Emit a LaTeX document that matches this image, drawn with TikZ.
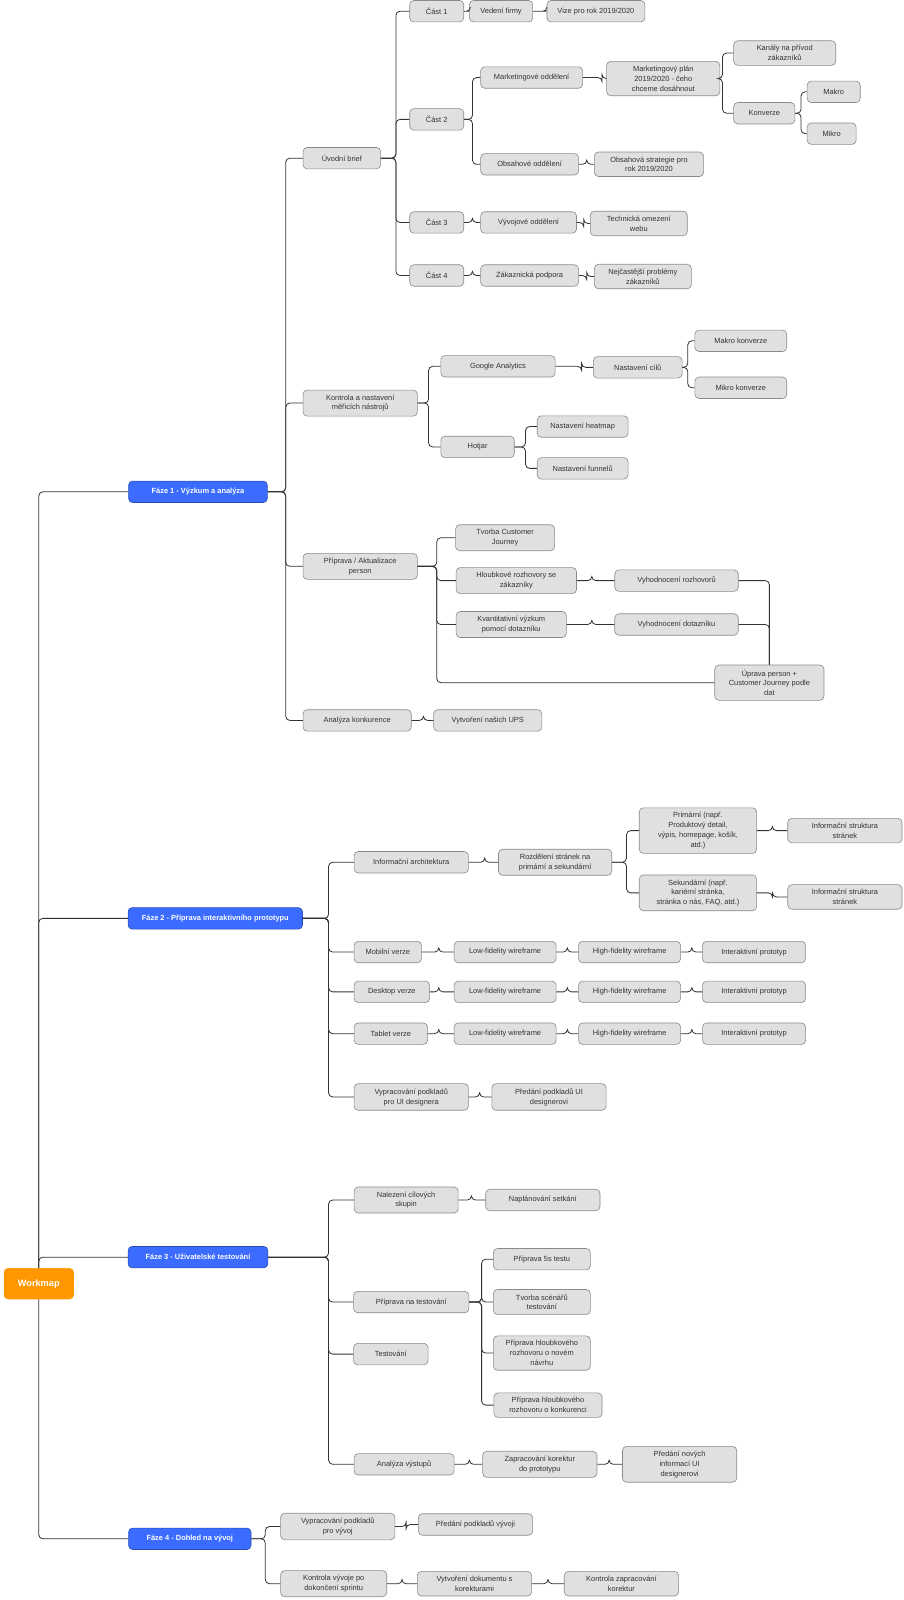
\documentclass[tikz,border=0pt]{standalone}
\usepackage{fontspec}
\setmainfont{Liberation Sans}
\definecolor{boxfill}{HTML}{E0E0E0}
\definecolor{boxline}{HTML}{8A8A8A}
\definecolor{linec}{HTML}{333333}
\definecolor{phase}{HTML}{3B6CFF}
\definecolor{wmc}{HTML}{FF9800}
\definecolor{txt}{HTML}{333333}
\tikzset{
 box/.style={draw=boxline,fill=boxfill,rounded corners=4pt,align=center,text=txt,
   font=\fontsize{7.3}{9.6}\selectfont,inner xsep=2pt,inner ysep=4.5pt,minimum height=21pt,line width=0.6pt},
 phasebox/.style={box,fill=phase,draw=phase!70!black,text=white,font=\fontsize{7.3}{9.6}\selectfont\bfseries},
 conn/.style={draw=linec,line width=0.8pt,rounded corners=4pt}
}
\newcommand\N[5]{\node[box,minimum width=#4pt] (#1) at (#2,#3) {#5};}
\newcommand\C[3]{\draw[conn] (#1.east) -- (#3,0 |- #1.east) |- (#2.west);}
\begin{document}
\begin{tikzpicture}[x=1pt,y=-1pt]
\useasboundingbox (0,0) rectangle (885,1568);
% root and phases
\node[box,fill=wmc,draw=wmc,text=white,font=\fontsize{9}{11}\selectfont\bfseries,minimum width=68pt,minimum height=30pt] (wm) at (38,1258) {Workmap};
\node[phasebox,minimum width=136pt] (f1) at (194,482) {Fáze 1 - Výzkum a analýza};
\node[phasebox,minimum width=171pt] (f2) at (211,900) {Fáze 2 - Příprava interaktivního prototypu};
\node[phasebox,minimum width=137pt] (f3) at (194,1232) {Fáze 3 - Uživatelské testování};
\node[phasebox,minimum width=120pt] (f4) at (186,1508) {Fáze 4 - Dohled na vývoj};
\draw[conn] (f1.west) -| (wm.north);
\draw[conn] (f4.west) -| (wm.south);
\draw[conn] (wm.north) |- (f2.west);
\draw[conn] (wm.north) |- (f3.west);
% Faze 1
\N{ub}{335}{155}{76}{Úvodní brief}
\N{kn}{353}{395}{112}{Kontrola a nastavení\\měřicích nástrojů}
\N{pp}{353}{555}{112}{Příprava / Aktualizace\\person}
\N{ak}{350}{706}{106}{Analýza konkurence}
\C{f1}{ub}{280}\C{f1}{kn}{280}\C{f1}{pp}{280}\C{f1}{ak}{280}
\N{c1}{428}{11}{53}{Část 1}
\N{c2}{428}{117}{53}{Část 2}
\N{c3}{428}{218}{53}{Část 3}
\N{c4}{428}{270}{53}{Část 4}
\C{ub}{c1}{388}\C{ub}{c2}{388}\C{ub}{c3}{388}\C{ub}{c4}{388}
\N{vf}{491}{11}{62}{Vedení firmy}
\N{vz}{584}{11}{96}{Vize pro rok 2019/2020}
\C{c1}{vf}{461}\C{vf}{vz}{536}
\N{mo}{521}{76}{100}{Marketingové oddělení}
\N{oo}{519}{161}{96}{Obsahové oddělení}
\C{c2}{mo}{463}\C{c2}{oo}{463}
\N{mp}{650}{77}{111}{Marketingový plán\\2019/2020 - čeho\\chceme dosáhnout}
\C{mo}{mp}{590}
\N{kp}{769}{52}{100}{Kanály na přívod\\zákazníků}
\N{kv}{749}{111}{60}{Konverze}
\C{mp}{kp}{708}\C{mp}{kv}{708}
\N{ma}{817}{90}{52}{Makro}
\N{mi}{815}{131}{48}{Mikro}
\C{kv}{ma}{785}\C{kv}{mi}{785}
\N{os}{636}{161}{107}{Obsahová strategie pro\\rok 2019/2020}
\C{oo}{os}{575}
\N{vo}{518}{218}{94}{Vývojové oddělení}
\N{to}{626}{219}{95}{Technická omezení\\webu}
\C{c3}{vo}{463}\C{vo}{to}{572}
\N{zp}{519}{270}{96}{Zákaznická podpora}
\N{np}{630}{271}{95}{Nejčastější problémy\\zákazníků}
\C{c4}{zp}{463}\C{zp}{np}{575}
\N{ga}{488}{359}{112}{Google Analytics}
\N{hj}{468}{438}{72}{Hotjar}
\C{kn}{ga}{420}\C{kn}{hj}{420}
\N{nc}{625}{360}{87}{Nastavení cílů}
\C{ga}{nc}{570}
\N{mk}{726}{334}{90}{Makro konverze}
\N{mik}{726}{380}{90}{Mikro konverze}
\C{nc}{mk}{674}\C{nc}{mik}{674}
\N{nh}{571}{418}{89}{Nastavení heatmap}
\N{nf}{571}{459}{89}{Nastavení funnelů}
\C{hj}{nh}{515}\C{hj}{nf}{515}
\N{tcj}{495}{527}{97}{Tvorba Customer\\Journey}
\N{hr}{506}{569}{118}{Hloubkové rozhovory se\\zákazníky}
\N{kvv}{501}{612}{108}{Kvantitativní výzkum\\pomocí dotazníku}
\N{up}{754}{669}{107}{Úprava person +\\Customer Journey podle\\dat}
\C{pp}{tcj}{428}\C{pp}{hr}{428}\C{pp}{kvv}{428}\C{pp}{up}{428}
\N{vr}{663}{569}{121}{Vyhodnocení rozhovorů}
\N{vd}{663}{612}{121}{Vyhodnocení dotazníku}
\C{hr}{vr}{580}\C{kvv}{vd}{580}
\draw[conn] (vr.east) -| (up.north);
\draw[conn] (vd.east) -| (up.north);
\N{vu}{478}{706}{106}{Vytvoření našich UPS}
\C{ak}{vu}{415}
% Faze 2
\N{ia}{403}{845}{112}{Informační architektura}
\N{mv}{380}{933}{66}{Mobilní verze}
\N{dv}{384}{972}{74}{Desktop verze}
\N{tv}{383}{1013}{72}{Tablet verze}
\N{vp}{403}{1075}{112}{Vypracování podkladů\\pro UI designera}
\C{f2}{ia}{322}\C{f2}{mv}{322}\C{f2}{dv}{322}\C{f2}{tv}{322}\C{f2}{vp}{322}
\N{rs}{544}{845}{111}{Rozdělení stránek na\\primární a sekundární}
\C{ia}{rs}{475}
\N{pr}{684}{814}{115}{Primární (např.\\Produktový detail,\\výpis, homepage, košík,\\atd.)}
\N{sk}{684}{875}{115}{Sekundární (např.\\kariérní stránka,\\stránka o nás, FAQ, atd.)}
\C{rs}{pr}{614}\C{rs}{sk}{614}
\N{is1}{828}{814}{112}{Informační struktura\\stránek}
\N{is2}{828}{879}{112}{Informační struktura\\stránek}
\C{pr}{is1}{757}\C{sk}{is2}{757}
\foreach \v/\y in {mv/933,dv/972,tv/1013}{
 \N{l\v}{495}{\y}{100}{Low-fidelity wireframe}
 \N{h\v}{617}{\y}{100}{High-fidelity wireframe}
 \N{i\v}{739}{\y}{101}{Interaktivní prototyp}
 \C{\v}{l\v}{430}\C{l\v}{h\v}{556}\C{h\v}{i\v}{678}
}
\N{pu}{538}{1075}{112}{Předání podkladů UI\\designerovi}
\C{vp}{pu}{470}
% Faze 3
\N{ns}{398}{1176}{102}{Nalezení cílových\\skupin}
\N{pt}{403}{1276}{113}{Příprava na testování}
\N{te}{383}{1327}{73}{Testování}
\N{av}{396}{1435}{98}{Analýza výstupů}
\C{f3}{ns}{322}\C{f3}{pt}{322}\C{f3}{te}{322}\C{f3}{av}{322}
\N{nps}{532}{1176}{112}{Naplánování setkání}
\C{ns}{nps}{462}
\N{p5}{531}{1234}{95}{Příprava 5s testu}
\N{ts}{531}{1276}{95}{Tvorba scénářů\\testování}
\N{phn}{531}{1326}{95}{Příprava hloubkového\\rozhovoru o novém\\návrhu}
\N{phk}{537}{1377}{106}{Příprava hloubkového\\rozhovoru o konkurenci}
\C{pt}{p5}{472}\C{pt}{ts}{472}\C{pt}{phn}{472}\C{pt}{phk}{472}
\N{zk}{529}{1435}{112}{Zapracování korektur\\do prototypu}
\N{pn}{666}{1435}{112}{Předání nových\\informací UI\\designerovi}
\C{av}{zk}{460}\C{zk}{pn}{597}
% Faze 4
\N{vpv}{331}{1496}{112}{Vypracování podkladů\\pro vývoj}
\N{kvs}{327}{1552}{104}{Kontrola vývoje po\\dokončení sprintu}
\C{f4}{vpv}{260}\C{f4}{kvs}{260}
\N{ppv}{466}{1494}{112}{Předání podkladů vývoji}
\C{vpv}{ppv}{398}
\N{vdk}{465}{1552}{112}{Vytvoření dokumentu s\\korekturami}
\N{kzk}{609}{1552}{112}{Kontrola zapracování\\korektur}
\C{kvs}{vdk}{394}\C{vdk}{kzk}{537}
\end{tikzpicture}
\end{document}
